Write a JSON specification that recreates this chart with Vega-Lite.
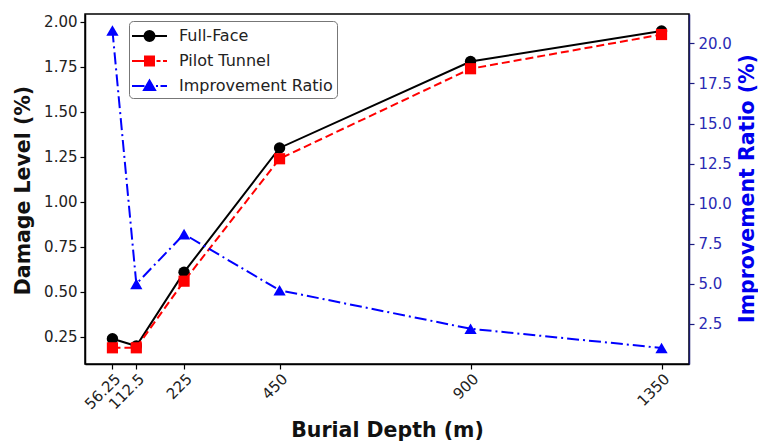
{
  "$schema": "https://vega.github.io/schema/vega-lite/v6.json",
  "width": 604,
  "height": 350,
  "autosize": {"type": "none"},
  "padding": {"left": 85, "top": 14, "right": 69, "bottom": 77},
  "background": "white",
  "config": {
    "font": "DejaVu Sans",
    "view": {"stroke": "black", "strokeWidth": 1.5},
    "axis": {
      "grid": false,
      "labelFont": "DejaVu Sans",
      "labelFontSize": 15,
      "labelColor": "#222222",
      "tickColor": "black",
      "tickSize": 5,
      "tickWidth": 1.2,
      "domainColor": "black",
      "domainWidth": 1.5,
      "titleFont": "DejaVu Sans",
      "titleFontSize": 20.5,
      "titleFontWeight": "bold",
      "titleColor": "#111111",
      "labelPadding": 3
    }
  },
  "data": {
    "values": [
      {"depth": 56.25, "series": "Full-Face", "value": 0.24},
      {"depth": 112.5, "series": "Full-Face", "value": 0.20},
      {"depth": 225, "series": "Full-Face", "value": 0.61},
      {"depth": 450, "series": "Full-Face", "value": 1.30},
      {"depth": 900, "series": "Full-Face", "value": 1.78},
      {"depth": 1350, "series": "Full-Face", "value": 1.95},
      {"depth": 56.25, "series": "Pilot Tunnel", "value": 0.19},
      {"depth": 112.5, "series": "Pilot Tunnel", "value": 0.19},
      {"depth": 225, "series": "Pilot Tunnel", "value": 0.56},
      {"depth": 450, "series": "Pilot Tunnel", "value": 1.24},
      {"depth": 900, "series": "Pilot Tunnel", "value": 1.74},
      {"depth": 1350, "series": "Pilot Tunnel", "value": 1.93},
      {"depth": 56.25, "series": "Improvement Ratio", "value": 20.8},
      {"depth": 112.5, "series": "Improvement Ratio", "value": 5.0},
      {"depth": 225, "series": "Improvement Ratio", "value": 8.1},
      {"depth": 450, "series": "Improvement Ratio", "value": 4.6},
      {"depth": 900, "series": "Improvement Ratio", "value": 2.2},
      {"depth": 1350, "series": "Improvement Ratio", "value": 1.0}
    ]
  },
  "encoding": {
    "x": {
      "field": "depth",
      "type": "quantitative",
      "scale": {"domain": [-8.4, 1414.7], "nice": false, "zero": false},
      "axis": {
        "values": [56.25, 112.5, 225, 450, 900, 1350],
        "labelExpr": "'' + datum.value",
        "labelOverlap": false,
        "labelFlush": false,
        "labelAngle": -45,
        "labelAlign": "right",
        "labelBaseline": "top",
        "labelPadding": 2,
        "title": "Burial Depth (m)",
        "titleY": 72,
        "titleBaseline": "alphabetic",
        "titleAlign": "center"
      }
    }
  },
  "layer": [
    {
      "encoding": {
        "y": {
          "field": "value",
          "type": "quantitative",
          "scale": {"domain": [0.1, 2.044], "nice": false, "zero": false},
          "axis": {
            "orient": "left",
            "values": [0.25, 0.5, 0.75, 1.0, 1.25, 1.5, 1.75, 2.0],
            "format": ".2f",
            "title": "Damage Level (%)",
            "titleAngle": 270,
            "titleX": -61.5,
            "titleY": 176,
            "titleAlign": "center",
            "titleBaseline": "middle"
          }
        }
      },
      "layer": [
        {
          "transform": [{"filter": "datum.series === 'Full-Face'"}],
          "mark": {"type": "line", "color": "black", "strokeWidth": 2}
        },
        {
          "transform": [{"filter": "datum.series === 'Full-Face'"}],
          "mark": {"type": "point", "shape": "circle", "filled": true, "color": "black", "size": 130, "opacity": 1}
        },
        {
          "transform": [{"filter": "datum.series === 'Pilot Tunnel'"}],
          "mark": {"type": "line", "color": "#ff0000", "strokeWidth": 2, "strokeDash": [8, 4]}
        },
        {
          "transform": [{"filter": "datum.series === 'Pilot Tunnel'"}],
          "mark": {"type": "point", "shape": "square", "filled": true, "color": "#ff0000", "size": 125, "opacity": 1}
        },
        {
          "transform": [{"filter": "datum.depth < 0"}],
          "mark": {"type": "point", "filled": true, "strokeWidth": 2, "opacity": 1},
          "encoding": {
            "fill": {
              "field": "series",
              "type": "nominal",
              "scale": {"domain": ["Full-Face", "Pilot Tunnel", "Improvement Ratio"], "range": ["black", "#ff0000", "#0000ff"]},
              "legend": {
                "title": null,
                "orient": "none",
                "legendX": 44,
                "legendY": 7,
                "symbolSize": 400,
                "symbolStrokeWidth": 2,
                "labelFont": "DejaVu Sans",
                "labelFontSize": 16,
                "labelColor": "#222222",
                "labelOffset": 24,
                "strokeColor": "#777777",
                "fillColor": "white",
                "cornerRadius": 4,
                "padding": 4,
                "rowPadding": 5
              }
            },
            "stroke": {
              "field": "series",
              "type": "nominal",
              "scale": {"domain": ["Full-Face", "Pilot Tunnel", "Improvement Ratio"], "range": ["black", "#ff0000", "#0000ff"]}
            },
            "shape": {
              "field": "series",
              "type": "nominal",
              "scale": {
                "domain": ["Full-Face", "Pilot Tunnel", "Improvement Ratio"],
                "range": [
                  "M-1.2,0H2.3M0.05,0A0.5,0.5 0 1,1 1.05,0A0.5,0.5 0 1,1 0.05,0Z",
                  "M-1.2,0H0.1M1.25,0H1.65M1.9,0H2.3M0.1,-0.45H1V0.45H0.1Z",
                  "M-1.2,0H0.05M1.2,0H1.4M1.65,0H2.3M0.55,-0.55L1.1,0.4H0Z"
                ]
              }
            }
          }
        }
      ]
    },
    {
      "encoding": {
        "y": {
          "field": "value",
          "type": "quantitative",
          "scale": {"domain": [0.0, 21.83], "nice": false, "zero": false},
          "axis": {
            "orient": "right",
            "values": [2.5, 5.0, 7.5, 10.0, 12.5, 15.0, 17.5, 20.0],
            "format": ".1f",
            "labelColor": "#2a2ab4",
            "tickColor": "#1a1a80",
            "domainColor": "#1a1a6e",
            "labelPadding": 4,
            "title": "Improvement Ratio (%)",
            "titleColor": "#0000ee",
            "titleAngle": 270,
            "titleX": 58,
            "titleY": 174,
            "titleAlign": "center",
            "titleBaseline": "middle"
          }
        }
      },
      "layer": [
        {
          "transform": [{"filter": "datum.series === 'Improvement Ratio'"}],
          "mark": {"type": "line", "color": "#0000ff", "strokeWidth": 2, "strokeDash": [12, 4, 2, 4]}
        },
        {
          "transform": [{"filter": "datum.series === 'Improvement Ratio'"}],
          "mark": {"type": "point", "shape": "triangle-up", "filled": true, "color": "#0000ff", "size": 150, "opacity": 1}
        }
      ]
    }
  ],
  "resolve": {"scale": {"y": "independent"}}
}
